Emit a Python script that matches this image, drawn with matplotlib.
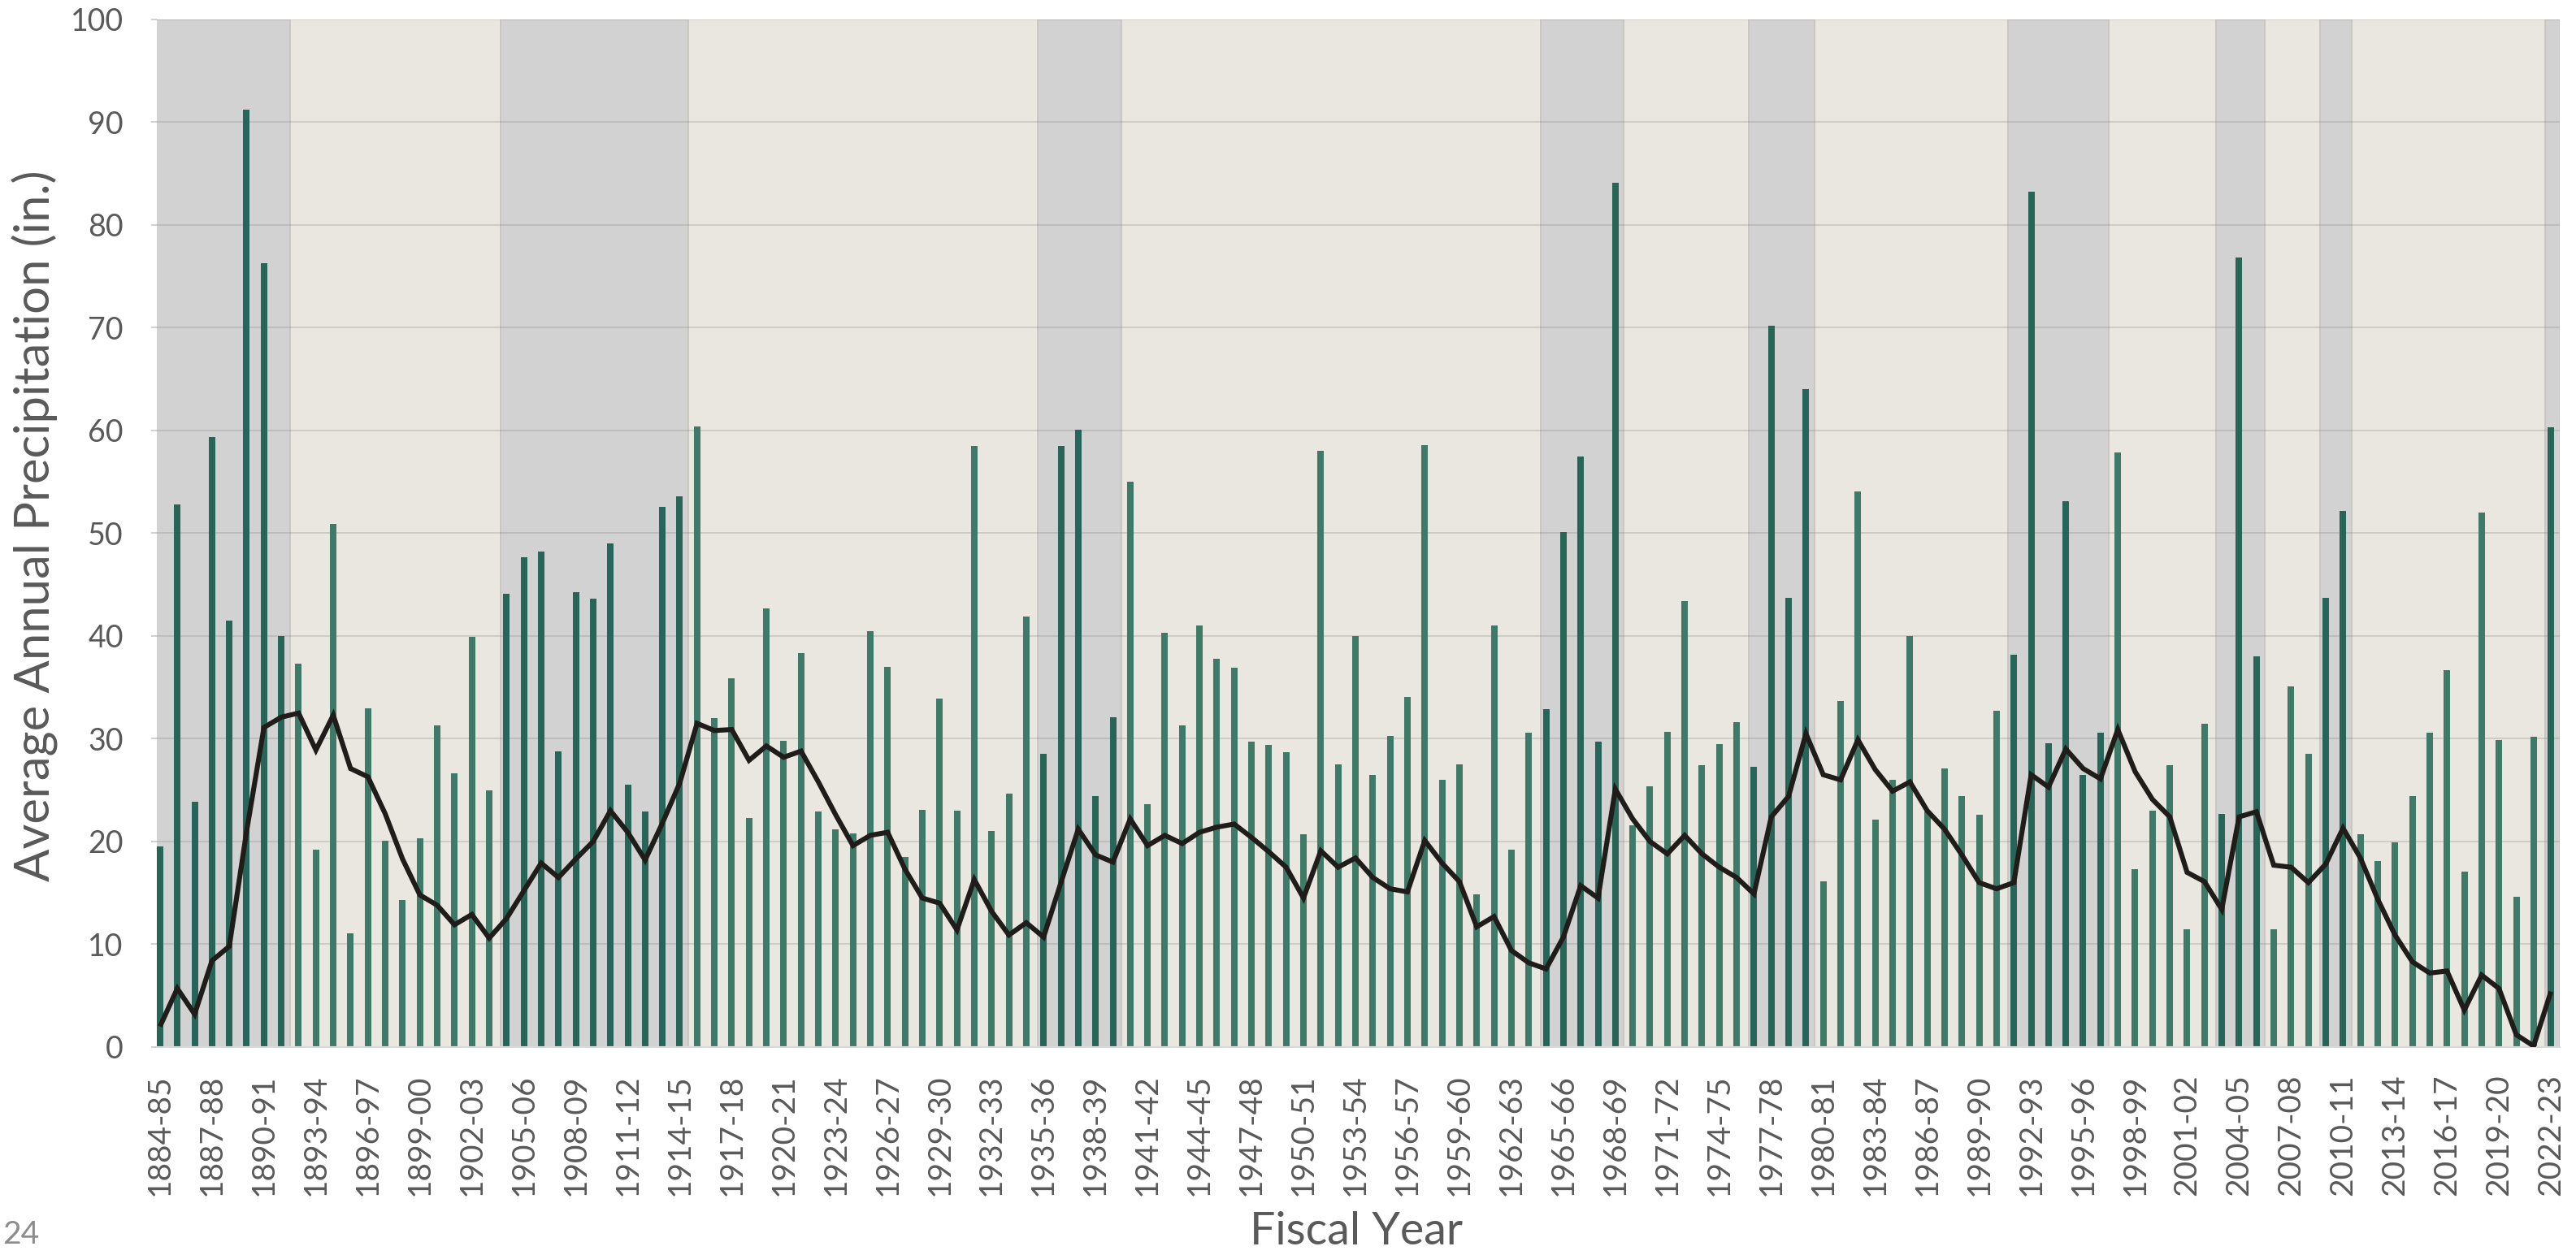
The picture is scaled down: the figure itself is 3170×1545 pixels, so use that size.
import matplotlib.pyplot as plt
import numpy as np

# --- Data: fiscal years ---
years = [f"{y}-{str(y + 1)[-2:]}" for y in range(1884, 2023)]

# --- Average annual precipitation (in.) ---
precip = [
    19.5, 52.8, 23.9, 59.4, 41.5, 91.2, 76.3, 40.0, 37.3, 19.2,
    50.9, 11.1, 33.0, 20.1, 14.3, 20.3, 31.3, 26.6, 39.9, 25.0,
    44.1, 47.7, 48.2, 28.8, 44.3, 43.6, 49.0, 25.5, 22.9, 52.6,
    53.6, 60.4, 32.0, 35.9, 22.3, 42.7, 29.8, 38.3, 22.9, 21.2,
    20.8, 40.5, 37.0, 18.5, 23.1, 33.9, 23.0, 58.5, 21.0, 24.7,
    41.9, 28.5, 58.5, 60.1, 24.4, 32.1, 55.0, 23.6, 40.3, 31.3,
    41.0, 37.8, 36.9, 29.7, 29.4, 28.7, 20.7, 58.0, 27.5, 40.0,
    26.5, 30.3, 34.1, 58.6, 26.0, 27.5, 14.9, 41.0, 19.2, 30.6,
    32.9, 50.1, 57.5, 29.7, 84.1, 21.6, 25.4, 30.7, 43.4, 27.4,
    29.5, 31.6, 27.3, 70.2, 43.7, 64.0, 16.1, 33.7, 54.1, 22.1,
    26.0, 40.0, 22.9, 27.1, 24.4, 22.6, 32.7, 38.2, 83.2, 29.6,
    53.1, 26.5, 30.6, 57.9, 17.3, 23.0, 27.4, 11.5, 31.5, 22.7,
    76.8, 38.0, 11.5, 35.1, 28.5, 43.7, 52.2, 20.7, 18.1, 19.9,
    24.4, 30.6, 36.7, 17.1, 52.0, 29.9, 14.6, 30.2, 60.3,
]

# --- Line series ---
line_vals = [
    2.0, 5.7, 3.2, 8.4, 9.8, 21.0, 31.1, 32.1, 32.5, 28.9,
    32.3, 27.1, 26.3, 22.7, 18.3, 14.8, 13.8, 11.9, 12.9, 10.6,
    12.5, 15.2, 17.9, 16.5, 18.3, 20.0, 23.0, 20.9, 18.2, 21.8,
    25.7, 31.5, 30.8, 30.9, 27.9, 29.3, 28.2, 28.8, 25.8, 22.6,
    19.6, 20.6, 20.9, 17.3, 14.5, 14.0, 11.4, 16.3, 13.2, 10.9,
    12.1, 10.7, 16.0, 21.2, 18.7, 18.0, 22.2, 19.6, 20.6, 19.8,
    20.9, 21.4, 21.7, 20.4, 19.0, 17.5, 14.5, 19.1, 17.5, 18.4,
    16.5, 15.4, 15.1, 20.1, 17.9, 16.1, 11.7, 12.7, 9.4, 8.2,
    7.6, 10.7, 15.7, 14.5, 25.1, 22.2, 20.0, 18.8, 20.6, 18.8,
    17.5, 16.5, 14.9, 22.4, 24.4, 30.5, 26.5, 26.0, 29.9, 27.0,
    24.9, 25.8, 23.0, 21.2, 18.7, 16.0, 15.4, 16.0, 26.5, 25.3,
    29.0, 27.1, 26.1, 30.9, 26.8, 24.1, 22.4, 17.0, 16.1, 13.4,
    22.4, 22.9, 17.7, 17.5, 16.0, 17.8, 21.3, 18.4, 14.4, 10.9,
    8.3, 7.2, 7.4, 3.6, 7.0, 5.7, 1.2, 0.1, 5.4,
]

# --- Shaded periods (first year, last year) ---
shade_first = ["1884-85", "1904-05", "1935-36", "1964-65", "1976-77",
               "1991-92", "2003-04", "2009-10", "2022-23"]
shade_last = ["1891-92", "1914-15", "1939-40", "1968-69", "1979-80",
              "1996-97", "2005-06", "2010-11", "2022-23"]

# --- Colours ---
bg_color = "#EAE6E0"
shade_color = "#D2D2D2"
bar_light = "#3F7A69"
bar_dark = "#266558"
line_color = "#1F1C19"
text_color = "#595959"

x = np.arange(len(years))
spans = [(years.index(a) - 0.32, years.index(b) + 0.49)
         for a, b in zip(shade_first, shade_last)]

in_shade = np.zeros(len(years), dtype=bool)
for a, b in zip(shade_first, shade_last):
    in_shade[years.index(a):years.index(b) + 1] = True
bar_colors = [bar_dark if s else bar_light for s in in_shade]

# --- Figure ---
fig = plt.figure(figsize=(31.7, 15.45), dpi=100)
ax = fig.add_axes([0.0610, 0.1657, 0.9327, 0.8188])
ax.set_facecolor(bg_color)

# --- Shaded periods ---
for s, e in spans:
    ax.axvspan(s, e, facecolor=shade_color, edgecolor="#C6C3BD",
               linewidth=1.2, zorder=0)

# --- Grid lines ---
ax.set_axisbelow(True)
ax.yaxis.grid(True, color="#808080", alpha=0.3, linewidth=1.2, zorder=1)

# --- Bars ---
ax.bar(x, precip, width=0.375, color=bar_colors, zorder=2)

# --- Line ---
ax.plot(x, line_vals, color=line_color, linewidth=4.4,
        solid_joinstyle="miter", solid_capstyle="butt", zorder=3)

# --- Axes ---
ax.set_xlim(-0.164, 138.51)
ax.set_ylim(0, 100)
ax.set_yticks(np.arange(0, 101, 10))
ax.set_xticks(x[::3])
ax.set_xticklabels(years[::3], rotation=90, fontsize=28,
                   family="Lato", color=text_color)
ax.tick_params(axis="x", length=0, pad=24)
ax.tick_params(axis="y", length=5, width=1.2, color="#C8C8C8",
               labelsize=27, labelcolor=text_color, pad=25)
for lab in ax.get_yticklabels():
    lab.set_family("Lato")

for side in ["top", "right", "left"]:
    ax.spines[side].set_visible(False)
ax.spines["bottom"].set_color("#D9D9D9")
ax.spines["bottom"].set_linewidth(1.5)

# --- Labels ---
fig.text(0.0136, 0.581, "Average Annual Precipitation (in.)", rotation=90,
         ha="center", va="center", fontsize=43, color=text_color,
         family="Lato")
fig.text(0.5265, 1 - 1517 / 1545, "Fiscal Year", ha="center", va="center",
         fontsize=40, color=text_color, family="Lato")
fig.text(0.001, 1 - 1520 / 1545, "24", ha="left", va="center",
         fontsize=28, color="#8C8C8C", family="Lato")

plt.savefig("out.png", dpi=100)
